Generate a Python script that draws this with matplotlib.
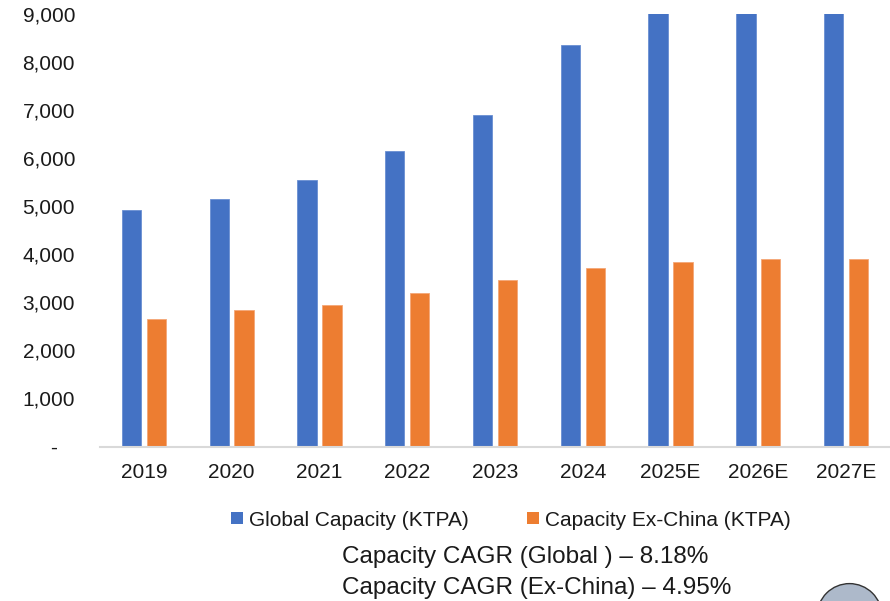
import matplotlib
matplotlib.use("Agg")
from matplotlib import pyplot as plt
from matplotlib.patches import Patch, Circle
from matplotlib.ticker import FuncFormatter
import numpy as np

#chart data
years = ["2019", "2020", "2021", "2022", "2023", "2024", "2025E", "2026E", "2027E"]
global_capacity = [4920, 5150, 5545, 6150, 6890, 8350, 9100, 9200, 9230]
ex_china_capacity = [2650, 2840, 2945, 3195, 3465, 3715, 3845, 3910, 3910]
y_ticks = [0, 1000, 2000, 3000, 4000, 5000, 6000, 7000, 8000, 9000]
series_labels = ["Global Capacity (KTPA)", "Capacity Ex-China (KTPA)"]
cagr_lines = ["Capacity CAGR (Global ) \u2013 8.18%", "Capacity CAGR (Ex-China) \u2013 4.95%"]

BLUE = "#4472C4"
ORANGE = "#ED7D31"

plt.rcParams["font.family"] = ["Liberation Sans", "DejaVu Sans"]

fig = plt.figure(figsize=(8.9, 6.01), dpi=100)
ax = fig.add_axes([100 / 890, 1 - 446.5 / 601, 790 / 890, (446.5 - 14) / 601])

x = np.arange(len(years))
offset = 0.142
width = 0.22
ax.bar(x - offset, global_capacity, width, color=BLUE, edgecolor="#6a8fd2", linewidth=0.6)
ax.bar(x + offset, ex_china_capacity, width, color=ORANGE, edgecolor="#f4a777", linewidth=0.6)

ax.set_xlim(-0.5, len(years) - 0.5)
ax.set_ylim(0, 9000)
ax.set_yticks(y_ticks)
ax.yaxis.set_major_formatter(FuncFormatter(lambda v, p: "-   " if v == 0 else f"{v:,.0f}"))
ax.set_xticks(x)
ax.set_xticklabels(years)

ax.tick_params(axis="both", length=0, labelsize=15, colors="#1a1a1a")
ax.tick_params(axis="y", pad=18)
ax.tick_params(axis="x", pad=12)

for side in ["top", "right", "left"]:
    ax.spines[side].set_visible(False)
ax.spines["bottom"].set_color("#d9d9d9")
ax.spines["bottom"].set_linewidth(1.5)

#legend under the chart
handles = [Patch(facecolor=BLUE), Patch(facecolor=ORANGE)]
fig.legend(handles, series_labels, loc="center", bbox_to_anchor=(511 / 890, 1 - 520 / 601),
           ncol=2, frameon=False, fontsize=15, handlelength=0.55, handleheight=0.55,
           handletextpad=0.3, columnspacing=2.8, labelcolor="#1a1a1a")

#CAGR notes
fig.text(342 / 890, 1 - 557 / 601, cagr_lines[0], fontsize=17.5, color="#1a1a1a", va="center", ha="left")
fig.text(342 / 890, 1 - 588 / 601, cagr_lines[1], fontsize=17.5, color="#1a1a1a", va="center", ha="left")

#partial circle in the corner
fig.add_artist(Circle((8.495, 6.01 - 6.16), 0.324, transform=fig.dpi_scale_trans,
                      facecolor="#adb9ca", edgecolor="#333333", linewidth=1.0))

fig.savefig("out.png", dpi=100)
